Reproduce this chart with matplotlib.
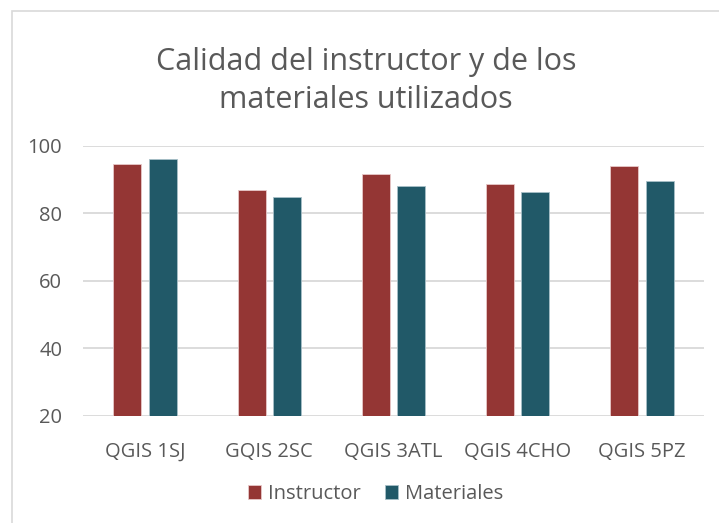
import matplotlib
matplotlib.use("Agg")
import matplotlib.pyplot as plt
from matplotlib.patches import Rectangle
import numpy as np

categories = ["QGIS 1SJ", "GQIS 2SC", "QGIS 3ATL", "QGIS 4CHO", "QGIS 5PZ"]
instructor = [94.5, 86.9, 91.6, 88.6, 93.9]
materiales = [96.1, 84.8, 88.1, 86.3, 89.4]
yticks = [20, 40, 60, 80, 100]

c_inst = "#943634"
c_mat = "#215968"
txt = "#595959"
grid = "#d9d9d9"
font = ["Open Sans", "DejaVu Sans"]

W, H = 719, 523
fig = plt.figure(figsize=(W / 100, H / 100), dpi=100)
fig.patch.set_facecolor("white")

# chart border (cropped at right and bottom)
fig.patches.append(Rectangle((11.5 / W, -0.05), 1.2, 1 - 10.5 / H + 0.05,
                             transform=fig.transFigure, fill=False,
                             edgecolor=grid, linewidth=1.2))

ax = fig.add_axes([83 / W, 1 - 415.7 / H, (704 - 83) / W, (415.7 - 145.7) / H])
x = np.arange(len(categories))
w = 0.227
off = 0.1425
ax.bar(x - off, instructor, w, color=c_inst, edgecolor="#e8c8c8", linewidth=0.6,
       label="Instructor", zorder=3)
ax.bar(x + off, materiales, w, color=c_mat, edgecolor="#a8c0c8", linewidth=0.6,
       label="Materiales", zorder=3)
ax.set_ylim(20, 100)
ax.set_xlim(-0.5, len(categories) - 0.5)
ax.set_yticks(yticks)
ax.set_yticklabels([str(t) for t in yticks], fontsize=14.5, color=txt, family=font)
ax.set_xticks(x)
ax.set_xticklabels(categories, fontsize=14.5, color=txt, family=font)
ax.tick_params(axis="both", length=0)
ax.tick_params(axis="y", pad=15)
ax.tick_params(axis="x", pad=19)
ax.yaxis.grid(True, color=grid, linewidth=1.3, zorder=0)
ax.set_axisbelow(True)
for s in ax.spines.values():
    s.set_visible(False)

fig.text(366 / W, 1 - 81 / H,
         "Calidad del instructor y de los\nmateriales utilizados",
         ha="center", va="center", fontsize=22, color=txt, family=font,
         linespacing=1.35)

leg = fig.legend(loc="center", bbox_to_anchor=(376 / W, 1 - 494 / H), ncol=2,
                 frameon=False, prop={"family": font, "size": 14.5},
                 handlelength=0.65, handleheight=0.65, handletextpad=0.35,
                 columnspacing=1.2)
for t in leg.get_texts():
    t.set_color(txt)

fig.savefig("out.png", dpi=100)
